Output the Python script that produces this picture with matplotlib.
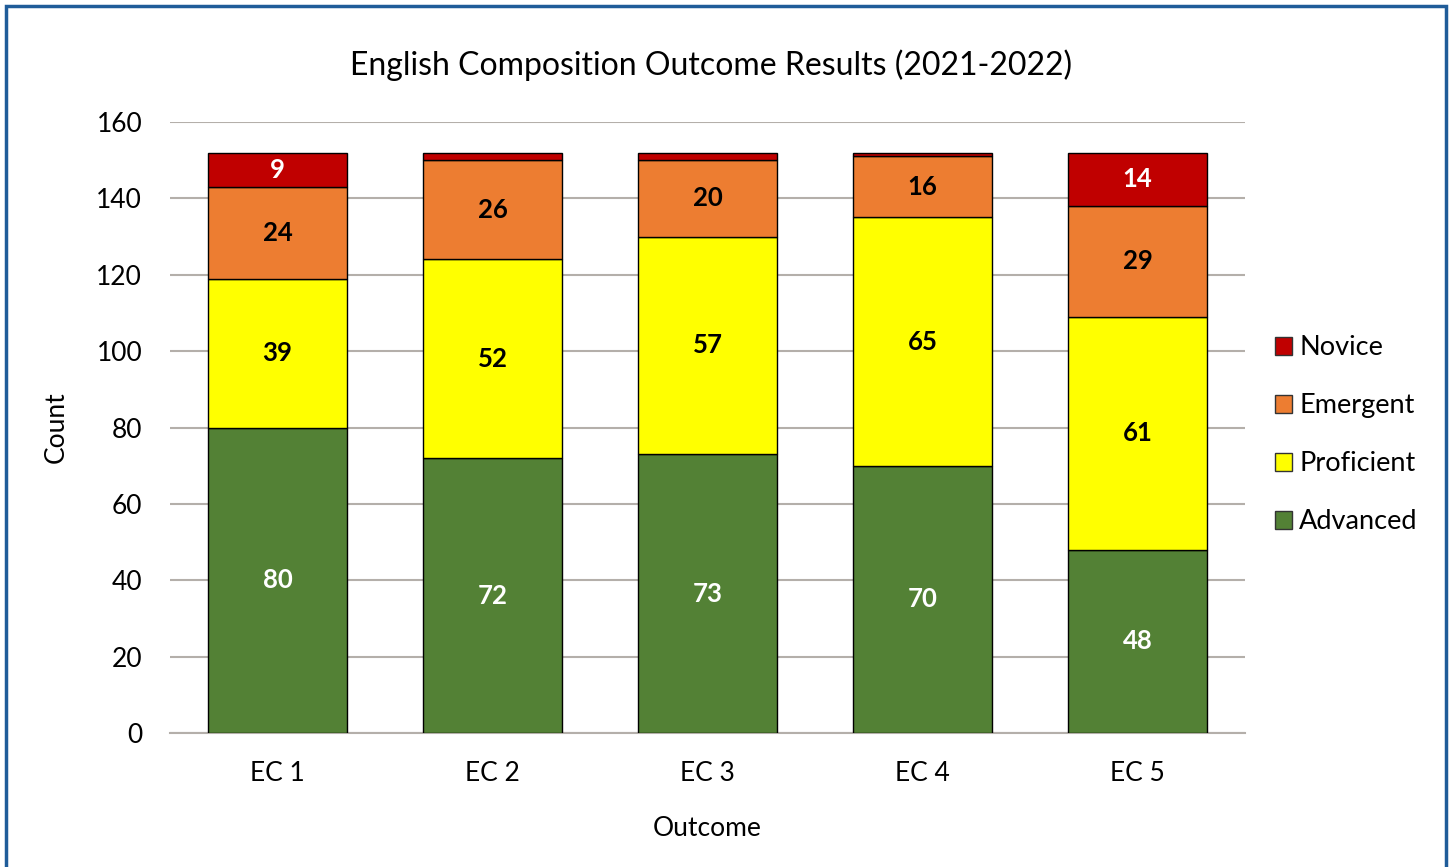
import matplotlib
matplotlib.use("Agg")
import matplotlib.pyplot as plt
from matplotlib.patches import Rectangle
import numpy as np

plt.rcParams['font.family'] = ['Lato', 'DejaVu Sans']

categories = ["EC 1", "EC 2", "EC 3", "EC 4", "EC 5"]
advanced = [80, 72, 73, 70, 48]
proficient = [39, 52, 57, 65, 61]
emergent = [24, 26, 20, 16, 29]
novice = [9, 2, 2, 1, 14]

series = [
    ("Advanced", advanced, "#538135", "white"),
    ("Proficient", proficient, "#FFFF00", "black"),
    ("Emergent", emergent, "#ED7D31", "black"),
    ("Novice", novice, "#C00000", "white"),
]

fig = plt.figure(figsize=(14.52, 8.67), dpi=100)
ax = fig.add_axes([170 / 1452, 1 - 733 / 867, 1075 / 1452, (733 - 122) / 867])

x = np.arange(len(categories))
bottom = np.zeros(len(categories))
handles = []
for name, vals, color, tcolor in series:
    vals = np.array(vals, dtype=float)
    bars = ax.bar(x, vals, width=0.647, bottom=bottom, color=color,
                  edgecolor="black", linewidth=1.0, label=name, zorder=3)
    handles.append(bars)
    for xi, b, v in zip(x, bottom, vals):
        if v >= 5:
            ax.text(xi, b + v / 2, f"{int(v)}", ha="center", va="center",
                    color=tcolor, fontsize=18.5, fontweight="bold", zorder=4)
    bottom += vals

ax.set_xlim(-0.5, len(categories) - 0.5)
ax.set_ylim(0, 160)
ax.set_yticks(range(0, 161, 20))
ax.set_xticks(x)
ax.set_xticklabels(categories)
ax.tick_params(axis="both", length=0, labelsize=19, colors="black")
ax.tick_params(axis="y", pad=20)
ax.tick_params(axis="x", pad=20)
ax.yaxis.grid(True, color="#B4AFAA", linewidth=1.5, zorder=0)
for s in ["top", "right", "left"]:
    ax.spines[s].set_visible(False)
ax.spines["bottom"].set_color("#B4AFAA")
ax.spines["bottom"].set_linewidth(1.5)

ax.set_ylabel("Count", fontsize=19, labelpad=20)
ax.set_xlabel("Outcome", fontsize=19, labelpad=22)
fig.text(711 / 1452, 1 - 65 / 867, "English Composition Outcome Results (2021-2022)",
         ha="center", va="center", fontsize=23)

leg = ax.legend(handles[::-1], [s[0] for s in series][::-1],
                loc="center left", bbox_to_anchor=(1.01, 0.488), frameon=False,
                fontsize=19.5, handlelength=0.65, handleheight=0.65,
                handletextpad=0.25, labelspacing=1.22, borderpad=0.2)
for p in leg.get_patches():
    p.set_edgecolor("#333333")

fig.add_artist(Rectangle((6 / 1452, -0.05), 1440 / 1452, 1.05 - 6 / 867,
                         transform=fig.transFigure, fill=False,
                         edgecolor="#1F5C99", linewidth=2.5))

fig.savefig("out.png", dpi=100)
